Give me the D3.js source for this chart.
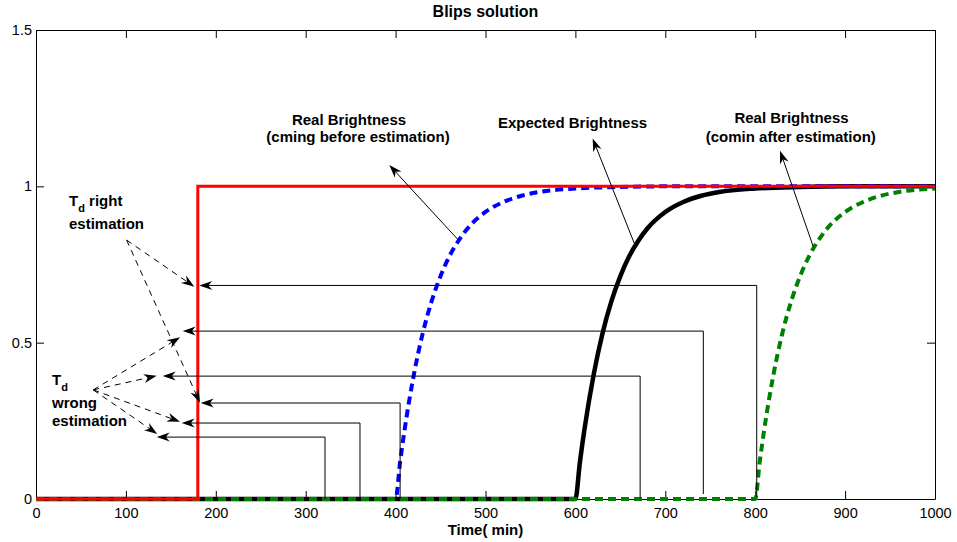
<!DOCTYPE html>
<html>
<head>
<meta charset="utf-8">
<script src="https://cdn.jsdelivr.net/npm/d3@7"></script>
<style>
  body { margin: 0; background: #fff; }
  text { font-family: "Liberation Sans", Arial, sans-serif; fill: #000; }
  .tick text { font-size: 14.5px; }
  .lbl { font-size: 15px; font-weight: bold; }
</style>
</head>
<body>
<div class="vizcontainer"></div>
<script>
const width = 957, height = 542;
const plot = ({ left: 36, right: 935, top: 30, bottom: 499 });

// axis ticks
const xTicks = [0, 100, 200, 300, 400, 500, 600, 700, 800, 900, 1000];
const yTicks = [0, 0.5, 1, 1.5];
const yTickLabels = ["0", "0.5", "1", "1.5"];

// curves (time in min, brightness)
const redTime = [0, 180, 180, 1000];
const redValue = [0, 0, 1, 1];

const blueTime = [0, 400, 405, 410, 420, 430, 440, 450, 460, 470, 480, 500, 520, 540, 560, 600, 650, 700, 800, 1000];
const blueValue = [0, 0, 0.118, 0.221, 0.393, 0.528, 0.632, 0.713, 0.777, 0.826, 0.865, 0.918, 0.950, 0.970, 0.982, 0.993, 0.998, 1.0, 1.0, 1.0];

const blackTime = [0, 600, 605, 610, 620, 630, 640, 650, 660, 670, 680, 700, 720, 740, 760, 800, 850, 900, 1000];
const blackValue = [0, 0, 0.118, 0.221, 0.393, 0.528, 0.632, 0.713, 0.777, 0.826, 0.865, 0.918, 0.950, 0.970, 0.982, 0.993, 0.998, 1.0, 1.0];

const greenTime = [0, 800, 805, 810, 820, 830, 840, 850, 860, 870, 880, 900, 920, 940, 960, 1000];
const greenValue = [0, 0, 0.118, 0.221, 0.393, 0.528, 0.632, 0.713, 0.777, 0.826, 0.865, 0.918, 0.950, 0.970, 0.982, 0.993];

// estimation arrows: vertical at startTime from bottomValue up to level, then left to tipTime
const estStart = [801.7, 742.3, 672, 405, 360.4, 321.5];
const estBottom = [0.007, 0.016, 0.003, 0, 0, 0];
const estLevel = [0.683, 0.537, 0.393, 0.307, 0.243, 0.198];
const estTip = [181.6, 163.2, 140.9, 183.2, 162, 134.3];

// dashed pointer arrows from the Td labels
const rightFrom = [100.8, 0.828];
const rightTipTime = [176.1, 182.4];
const rightTipValue = [0.679, 0.308];
const wrongFrom = [63.7, 0.349];
const wrongTipTime = [160.2, 134.3, 160.2, 134.9];
const wrongTipValue = [0.517, 0.394, 0.247, 0.208];

// leader arrows from curves to labels
const leadTailTime = [469.9, 666.3, 864.6];
const leadTailValue = [0.828, 0.812, 0.807];
const leadTipTime = [393, 619.2, 827.6];
const leadTipValue = [1.068, 1.153, 1.114];

// label text
const labelText = ["Real Brightness", "(cming before estimation)", "Expected Brightness",
                   "Real Brightness", "(comin after estimation)"];
const labelTime = [348.2, 358.2, 596.8, 840.4, 839.6];
const labelValue = [1.196, 1.141, 1.185, 1.201, 1.142];

var svg = d3.select(".vizcontainer")
  .append("svg")
  .attr("width", width)
  .attr("height", height);

var x = d3.scaleLinear().domain([0, 1000]).range([plot.left, plot.right]);
var y = d3.scaleLinear().domain([0, 1.5]).range([plot.bottom, plot.top]);

svg.append("g")
  .attr("transform", "translate(0," + plot.bottom + ")")
  .call(d3.axisBottom(x).tickValues(xTicks).tickFormat(d3.format("d"))
    .tickSizeInner(-8).tickSizeOuter(0).tickPadding(9));
svg.append("g")
  .attr("transform", "translate(0," + plot.top + ")")
  .call(d3.axisTop(x).tickValues(xTicks).tickFormat("")
    .tickSizeInner(-8).tickSizeOuter(0));
svg.append("g")
  .attr("transform", "translate(" + plot.left + ",0)")
  .call(d3.axisLeft(y).tickValues(yTicks).tickFormat((d, i) => yTickLabels[i])
    .tickSizeInner(-8).tickSizeOuter(0).tickPadding(4));
svg.append("g")
  .attr("transform", "translate(" + plot.right + ",0)")
  .call(d3.axisRight(y).tickValues(yTicks).tickFormat("")
    .tickSizeInner(-8).tickSizeOuter(0));
svg.selectAll(".domain, .tick line").attr("stroke", "#000");

var line = d3.line().x(d => x(d[0])).y(d => y(d[1])).curve(d3.curveMonotoneX);
var zip = (a, b) => a.map((t, i) => [t, b[i]]);

svg.append("path").datum(zip(blackTime, blackValue))
  .attr("d", line).attr("fill", "none").attr("stroke", "#000").attr("stroke-width", 4.5);
svg.append("path").datum(zip(blueTime, blueValue))
  .attr("d", line).attr("fill", "none").attr("stroke", "#0000ff").attr("stroke-width", 4)
  .attr("stroke-dasharray", "8,5");
svg.append("path").datum(zip(greenTime, greenValue))
  .attr("d", line).attr("fill", "none").attr("stroke", "#008000").attr("stroke-width", 4)
  .attr("stroke-dasharray", "8,5");
svg.append("path").datum(zip(redTime, redValue))
  .attr("d", d3.line().x(d => x(d[0])).y(d => y(d[1])))
  .attr("fill", "none").attr("stroke", "#ff0000").attr("stroke-width", 3);

var notes = svg.append("g");

function arrow(x1, y1, x2, y2, dashed) {
  var a = Math.atan2(y2 - y1, x2 - x1);
  var back = 8;
  notes.append("line")
    .attr("x1", x1).attr("y1", y1)
    .attr("x2", x2 - back * Math.cos(a)).attr("y2", y2 - back * Math.sin(a))
    .attr("stroke", "#000").attr("stroke-width", 1)
    .attr("stroke-dasharray", dashed ? "6,5" : null);
  notes.append("path")
    .attr("d", "M0,0L-13,-4.5L-9,0L-13,4.5Z")
    .attr("transform", "translate(" + x2 + "," + y2 + ") rotate(" + (a * 180 / Math.PI) + ")")
    .attr("fill", "#000");
}

estStart.forEach((t, i) => {
  notes.append("polyline")
    .attr("points", [[x(t), y(estBottom[i])], [x(t), y(estLevel[i])], [x(estTip[i]) + 8, y(estLevel[i])]].join(" "))
    .attr("fill", "none").attr("stroke", "#000").attr("stroke-width", 1);
  arrow(x(estTip[i]) + 10, y(estLevel[i]), x(estTip[i]), y(estLevel[i]), false);
});

rightTipTime.forEach((t, i) => arrow(x(rightFrom[0]), y(rightFrom[1]), x(t), y(rightTipValue[i]), true));
wrongTipTime.forEach((t, i) => arrow(x(wrongFrom[0]), y(wrongFrom[1]), x(t), y(wrongTipValue[i]), true));
leadTailTime.forEach((t, i) => arrow(x(t), y(leadTailValue[i]), x(leadTipTime[i]), y(leadTipValue[i]), false));

notes.selectAll("text.cap")
  .data(labelText)
  .enter()
  .append("text")
  .attr("class", "lbl cap")
  .attr("text-anchor", "middle")
  .attr("x", (d, i) => x(labelTime[i]))
  .attr("y", (d, i) => y(labelValue[i]))
  .text(d => d);

function tdLabel(t, v, rest) {
  var tx = notes.append("text").attr("class", "lbl").attr("x", x(t)).attr("y", y(v));
  tx.append("tspan").text("T");
  tx.append("tspan").attr("dy", 6).style("font-size", "11px").text("d");
  if (rest) tx.append("tspan").attr("dy", -6).text(" " + rest);
}
tdLabel(36.7, 0.937, "right");
notes.append("text").attr("class", "lbl").attr("x", x(36.7)).attr("y", y(0.862)).text("estimation");
tdLabel(17.8, 0.365, null);
notes.append("text").attr("class", "lbl").attr("x", x(17.8)).attr("y", y(0.291)).text("wrong");
notes.append("text").attr("class", "lbl").attr("x", x(17.8)).attr("y", y(0.233)).text("estimation");

svg.append("text")
  .attr("class", "lbl")
  .attr("text-anchor", "middle")
  .attr("x", (plot.left + plot.right) / 2)
  .attr("y", 17)
  .style("font-size", "16px")
  .text("Blips solution");

svg.append("text")
  .attr("class", "lbl")
  .attr("text-anchor", "middle")
  .attr("x", (plot.left + plot.right) / 2)
  .attr("y", 535)
  .text("Time( min)");
</script>
</body>
</html>
